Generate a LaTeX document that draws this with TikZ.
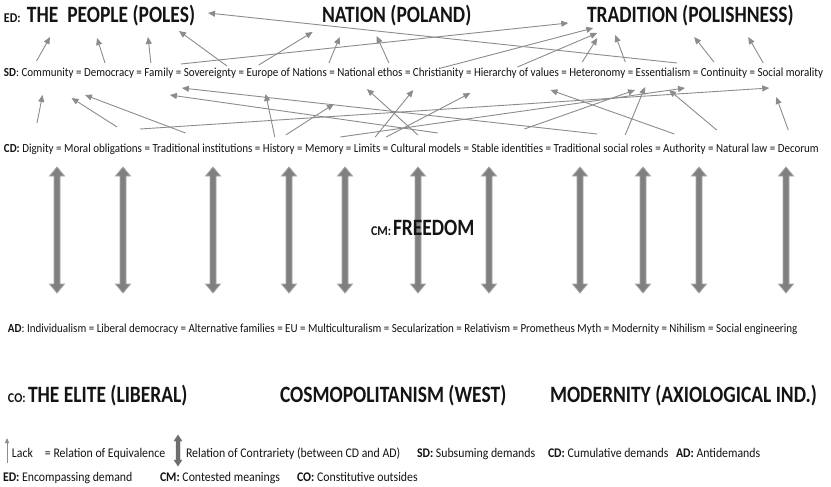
\documentclass[tikz,border=0pt]{standalone}
\usepackage{graphicx}
\usepackage{fontspec}
\setmainfont{Carlito}
\usetikzlibrary{arrows.meta}
\definecolor{arrgray}{HTML}{8C8C8C}
\definecolor{dblfill}{HTML}{808080}
\definecolor{dbledge}{HTML}{A8A8A8}
\definecolor{legdbl}{HTML}{6E6E6E}
\definecolor{txt}{HTML}{141414}
\newcommand{\rowfont}{\fontsize{11}{13}\selectfont}
\newcommand{\bigfont}{\fontsize{19.5}{23}\selectfont\bfseries}
\newcommand{\legfont}{\fontsize{11.8}{14}\selectfont}
\newcommand{\smallcap}[1]{{\fontsize{12}{14}\selectfont\bfseries #1}}
\newcommand{\lk}[6]{\draw[lack] ([shift={(#2,#3)}]#1.base) -- ([shift={(#5,#6)}]#4.base);}
\begin{document}
\begin{tikzpicture}[x=1pt,y=-1pt,
  every node/.style={text=txt},
  term/.style={inner sep=0pt, outer sep=0pt, font=\rowfont, yscale=1.12},
  eqsep/.style={inner ysep=0pt, inner xsep=2.49pt, outer sep=0pt, font=\rowfont, yscale=1.12},
  big/.style={inner sep=0pt, outer sep=0pt, font=\bigfont, yscale=1.2},
  legend/.style={inner sep=0pt, outer sep=0pt, font=\legfont, anchor=base west, yscale=1.12},
  lack/.style={draw=arrgray, line width=0.9pt, -{Triangle[length=7pt,width=6pt]}},
  dblarr/.style={fill=dblfill, draw=dbledge, line width=0.8pt},
]
\fill[white] (0,0) rectangle (831,487);
\useasboundingbox (0,0) rectangle (831,487);

% ED row
\node[term, anchor=base west] (edl) at (4,23) {\smallcap{ED:}};
\node[big, anchor=base west] (ed1) at (27,23) {THE\ \ PEOPLE (POLES)};
\node[big, anchor=base west] (ed2) at (322,23) {NATION (POLAND)};
\node[big, anchor=base west] (ed3) at (587,23) {TRADITION (POLISHNESS)};

% SD row
\node[term, anchor=base west] (sd0) at (4,77) {\textbf{SD}:};
\node[term, anchor=base west] (sd1) at ([xshift=2.49pt]sd0.base east) {Community};
\foreach \n/\t [remember=\n as \prev (initially sd1)] in {sd2/Democracy, sd3/Family, sd4/Sovereignty, sd5/Europe of Nations, sd6/National ethos, sd7/Christianity, sd8/Hierarchy of values, sd9/Heteronomy, sd10/Essentialism, sd11/Continuity, sd12/Social morality}{
  \node[eqsep, anchor=base west] (\n-eq) at (\prev.base east) {=};
  \node[term, anchor=base west] (\n) at (\n-eq.base east) {\t};
}

% CD row
\node[term, anchor=base west] (cd0) at (4,152) {\textbf{CD:}};
\node[term, anchor=base west] (cd1) at ([xshift=2.49pt]cd0.base east) {Dignity};
\foreach \n/\t [remember=\n as \prev (initially cd1)] in {cd2/Moral obligations, cd3/Traditional institutions, cd4/History, cd5/Memory, cd6/Limits, cd7/Cultural models, cd8/Stable identities, cd9/Traditional social roles, cd10/Authority, cd11/Natural law, cd12/Decorum}{
  \node[eqsep, anchor=base west] (\n-eq) at (\prev.base east) {=};
  \node[term, anchor=base west] (\n) at (\n-eq.base east) {\t};
}

% AD row
\node[term, anchor=base west] (ad0) at (8,332) {\textbf{AD}:};
\node[term, anchor=base west] (ad1) at ([xshift=2.49pt]ad0.base east) {Individualism};
\foreach \n/\t [remember=\n as \prev (initially ad1)] in {ad2/Liberal democracy, ad3/Alternative families, ad4/EU, ad5/Multiculturalism, ad6/Secularization, ad7/Relativism, ad8/Prometheus Myth, ad9/Modernity, ad10/Nihilism, ad11/Social engineering}{
  \node[eqsep, anchor=base west] (\n-eq) at (\prev.base east) {=};
  \node[term, anchor=base west] (\n) at (\n-eq.base east) {\t};
}

% CO row
\node[term, anchor=base west] (col) at (8,402) {\smallcap{CO:}};
\node[big, anchor=base west] (co1) at (28,402) {THE ELITE (LIBERAL)};
\node[big, anchor=base west] (co2) at (280,402) {COSMOPOLITANISM (WEST)};
\node[big, anchor=base west] (co3) at (550,402) {MODERNITY (AXIOLOGICAL IND.)};

% relations of contrariety
\foreach \x in {57,123,213,289,345,418,489,580,643,699,786}{
  \filldraw[dblarr, shift={(\x,0)}] (0,167) -- (7.5,176) -- (3,176) -- (3,284) -- (7.5,284) -- (0,293) -- (-7.5,284) -- (-3,284) -- (-3,176) -- (-7.5,176) -- cycle;
}

% contested meaning
\node[term, anchor=base west] (cml) at (371,235) {\smallcap{CM:}};
\node[big, anchor=base west] (cm) at (393,235) {FREEDOM};

% SD -> ED
\lk{sd1}{-11}{-16}{ed1}{-61}{14}
\lk{sd2}{-4}{-14}{ed1}{-14}{15}
\lk{sd3}{-8}{-14}{ed1}{37}{14}
\lk{sd4}{17}{-11}{ed1}{68}{8}
\lk{sd3}{22}{-13}{ed3}{-122}{0}
\lk{sd10}{14}{-14}{ed1}{97}{-10}
\lk{sd5}{-28}{-12}{ed2}{-84}{9}
\lk{sd6}{-41}{-14}{ed2}{-57}{14}
\lk{sd6}{19}{-14}{ed2}{-20}{13}
\lk{sd7}{3}{-9}{ed3}{-97}{5}
\lk{sd8}{1}{-10}{ed3}{-93}{10}
\lk{sd9}{-15}{-15}{ed3}{-93}{15}
\lk{sd9}{28}{-15}{ed3}{-75}{12}
\lk{sd11}{-10}{-15}{ed3}{4}{14}
\lk{sd12}{-27}{-14}{ed3}{58}{14}

% CD -> SD
\lk{cd1}{-1}{-29}{sd1}{-5}{18}
\lk{cd2}{14}{-25}{sd1}{24}{21}
\lk{cd3}{-17}{-19}{sd2}{-24}{18}
\lk{cd9}{-6}{-18}{sd3}{23}{11}
\lk{cd7}{12}{-19}{sd3}{11}{18}
\lk{cd4}{-4}{-15}{sd5}{-21}{17}
\lk{cd4}{7}{-17}{sd6}{-36}{27}
\lk{cd7}{-8}{-17}{sd6}{-3}{12}
\lk{cd6}{8}{-15}{sd7}{-25}{13}
\lk{cd6}{19}{-15}{sd8}{-46}{16}
\lk{cd2}{37}{-23}{sd12}{-21}{11}
\lk{cd5}{16}{-15}{sd10}{22}{11}
\lk{cd8}{17}{-23}{sd10}{-28}{13}
\lk{cd9}{22}{-17}{sd10}{-18}{10}
\lk{cd10}{-10}{-18}{sd8}{34}{13}
\lk{cd11}{-25}{-22}{sd10}{6}{13}
\lk{cd12}{-10}{-22}{sd12}{-14}{20}

% legend
\coordinate (lka) at (7,463);
\coordinate (lkb) at (7,438);
\draw[draw=arrgray, line width=0.8pt, -{Triangle[length=5pt,width=4pt]}] (lka) -- (lkb);
\node[legend] (lg1) at (12,457) {Lack};
\node[legend] (lg2) at (45,457) {= Relation of Equivalence};
\filldraw[fill=legdbl, draw=legdbl, line width=0.4pt, shift={(178,0)}] (0,435) -- (4,441) -- (2,441) -- (2,460) -- (4,460) -- (0,466) -- (-4,460) -- (-2,460) -- (-2,441) -- (-4,441) -- cycle;
\node[legend] (lg3) at (186,457) {Relation of Contrariety (between CD and AD)};
\node[legend] (lg4) at (417,457) {\textbf{SD:} Subsuming demands};
\node[legend] (lg5) at (548,457) {\textbf{CD:} Cumulative demands};
\node[legend] (lg6) at (676,457) {\textbf{AD:} Antidemands};
\node[legend] (lg7) at (3,481) {\textbf{ED:} Encompassing demand};
\node[legend] (lg8) at (160,481) {\textbf{CM:} Contested meanings};
\node[legend] (lg9) at (297,481) {\textbf{CO:} Constitutive outsides};
\end{tikzpicture}
\end{document}
